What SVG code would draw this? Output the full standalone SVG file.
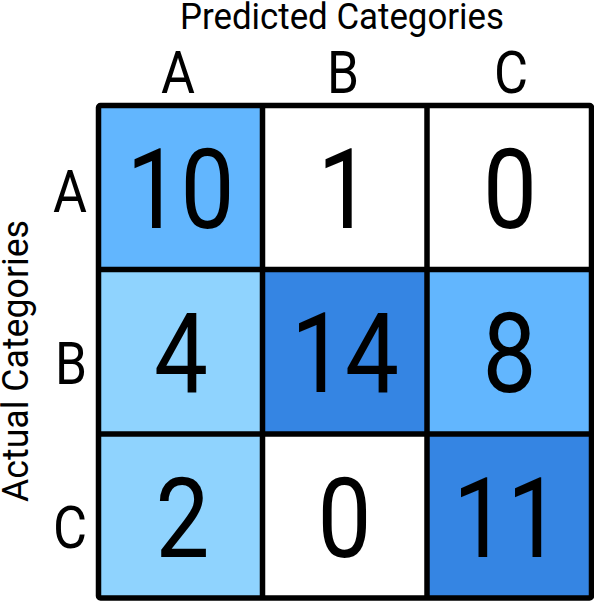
<svg xmlns="http://www.w3.org/2000/svg" width="594" height="601" viewBox="0 0 594 601">
<style>
  .t { font-family: Roboto, "Liberation Sans", sans-serif; fill: #000; }
  .num { font-size: 111px; text-anchor: middle; }
  .lbl { font-size: 59px; text-anchor: middle; }
  .ttl { font-size: 37px; text-anchor: middle; }
  .c1 { fill: #62B6FE; }
  .c2 { fill: #8FD3FE; }
  .c3 { fill: #3585E3; }
  .c0 { fill: #FFFFFF; }
  .grid { stroke: #000; stroke-width: 5.5; fill: none; }
</style>
<rect x="0" y="0" width="594" height="601" fill="#FFFFFF"/>

<g id="title-predicted"><text class="t ttl" x="342" y="29" textLength="324" lengthAdjust="spacingAndGlyphs">Predicted Categories</text></g>
<g id="title-actual"><text class="t ttl" transform="translate(28,361) rotate(-90)" x="0" y="0" textLength="282" lengthAdjust="spacingAndGlyphs">Actual Categories</text></g>

<g id="col-A"><text class="t lbl" x="178" y="93" textLength="34" lengthAdjust="spacingAndGlyphs">A</text></g>
<g id="col-B"><text class="t lbl" x="343" y="93" textLength="32" lengthAdjust="spacingAndGlyphs">B</text></g>
<g id="col-C"><text class="t lbl" x="511" y="93" textLength="34" lengthAdjust="spacingAndGlyphs">C</text></g>

<g id="row-A"><text class="t lbl" x="70" y="212" textLength="34" lengthAdjust="spacingAndGlyphs">A</text></g>
<g id="row-B"><text class="t lbl" x="71" y="384" textLength="32" lengthAdjust="spacingAndGlyphs">B</text></g>
<g id="row-C"><text class="t lbl" x="70" y="548" textLength="34" lengthAdjust="spacingAndGlyphs">C</text></g>

<g id="cell-AA"><rect class="c1" x="98.5" y="105.5" width="164" height="164"/><text class="t num" x="180.5" y="228" textLength="108" lengthAdjust="spacingAndGlyphs">10</text></g>
<g id="cell-AB"><rect class="c0" x="262.5" y="105.5" width="164.5" height="164"/><text class="t num" x="344.5" y="228" textLength="54" lengthAdjust="spacingAndGlyphs">1</text></g>
<g id="cell-AC"><rect class="c0" x="427" y="105.5" width="164.5" height="164"/><text class="t num" x="510" y="228" textLength="54" lengthAdjust="spacingAndGlyphs">0</text></g>

<g id="cell-BA"><rect class="c2" x="98.5" y="269.5" width="164" height="164.5"/><text class="t num" x="181" y="392" textLength="54" lengthAdjust="spacingAndGlyphs">4</text></g>
<g id="cell-BB"><rect class="c3" x="262.5" y="269.5" width="164.5" height="164.5"/><text class="t num" x="345" y="392" textLength="108" lengthAdjust="spacingAndGlyphs">14</text></g>
<g id="cell-BC"><rect class="c1" x="427" y="269.5" width="164.5" height="164.5"/><text class="t num" x="509.5" y="392" textLength="54" lengthAdjust="spacingAndGlyphs">8</text></g>

<g id="cell-CA"><rect class="c2" x="98.5" y="434" width="164" height="164"/><text class="t num" x="182.5" y="556.5" textLength="54" lengthAdjust="spacingAndGlyphs">2</text></g>
<g id="cell-CB"><rect class="c0" x="262.5" y="434" width="164.5" height="164"/><text class="t num" x="344.5" y="556.5" textLength="54" lengthAdjust="spacingAndGlyphs">0</text></g>
<g id="cell-CC"><rect class="c3" x="427" y="434" width="164.5" height="164"/><text class="t num" x="507" y="556.5" textLength="108" lengthAdjust="spacingAndGlyphs">11</text></g>

<g id="grid-lines" class="grid">
  <rect x="98.5" y="105.5" width="493" height="492.5" rx="2"/>
  <line x1="262.5" y1="105.5" x2="262.5" y2="598"/>
  <line x1="427" y1="105.5" x2="427" y2="598"/>
  <line x1="98.5" y1="269.5" x2="591.5" y2="269.5"/>
  <line x1="98.5" y1="434" x2="591.5" y2="434"/>
</g>
</svg>
